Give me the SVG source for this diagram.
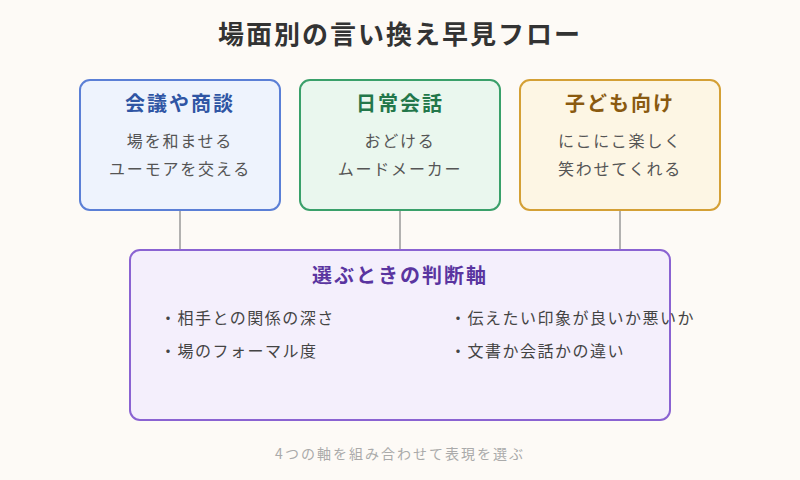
<svg xmlns="http://www.w3.org/2000/svg" width="800" height="480" viewBox="0 0 800 480">
<style>
text{font-family:"Noto Sans CJK JP","Noto Sans",sans-serif}
.h{font-size:20px;font-weight:bold;text-anchor:middle;letter-spacing:2px}
.b{font-size:16px;fill:#555;text-anchor:middle;letter-spacing:1.8px}
.l{font-size:16px;fill:#444;letter-spacing:1.5px}
.c{stroke:#999;stroke-width:1.5}
</style>
<rect width="800" height="480" fill="#fdfaf6"/>
<text x="400" y="44" text-anchor="middle" font-size="26" font-weight="bold" fill="#333" letter-spacing="2">場面別の言い換え早見フロー</text>
<g id="connectors">
<line class="c" x1="180" y1="210" x2="180" y2="250"/>
<line class="c" x1="400" y1="210" x2="400" y2="250"/>
<line class="c" x1="620" y1="210" x2="620" y2="250"/>
</g>
<g id="meeting">
<rect x="80" y="80" width="200" height="130" rx="10" fill="#eef3fd" stroke="#5b7fd6" stroke-width="2"/>
<text class="h" x="180" y="111" fill="#2f55a4">会議や商談</text>
<text class="b" x="180" y="147">場を和ませる</text>
<text class="b" x="180" y="175">ユーモアを交える</text>
</g>
<g id="daily">
<rect x="300" y="80" width="200" height="130" rx="10" fill="#eaf7ee" stroke="#3aa06a" stroke-width="2"/>
<text class="h" x="400" y="111" fill="#23774a">日常会話</text>
<text class="b" x="400" y="147">おどける</text>
<text class="b" x="400" y="175">ムードメーカー</text>
</g>
<g id="kids">
<rect x="520" y="80" width="200" height="130" rx="10" fill="#fdf6e4" stroke="#d4a035" stroke-width="2"/>
<text class="h" x="620" y="111" fill="#8a5a10">子ども向け</text>
<text class="b" x="620" y="147">にこにこ楽しく</text>
<text class="b" x="620" y="175">笑わせてくれる</text>
</g>
<g id="axes">
<rect x="130" y="250" width="540" height="170" rx="10" fill="#f4effc" stroke="#8a63d2" stroke-width="2"/>
<text class="h" x="400" y="283" fill="#5a35a0">選ぶときの判断軸</text>
<text class="l" x="160" y="324">・相手との関係の深さ</text>
<text class="l" x="160" y="357">・場のフォーマル度</text>
<text class="l" x="450" y="324">・伝えたい印象が良いか悪いか</text>
<text class="l" x="450" y="357">・文書か会話かの違い</text>
</g>
<text x="400" y="459" text-anchor="middle" font-size="14" fill="#aaa" letter-spacing="2">4つの軸を組み合わせて表現を選ぶ</text>
</svg>
